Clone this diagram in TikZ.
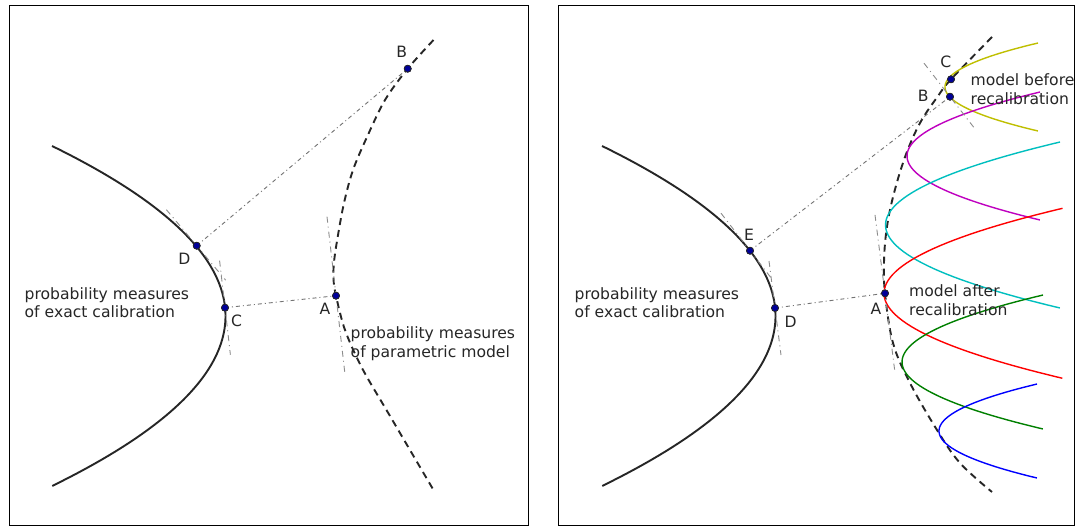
\documentclass[tikz,border=0pt]{standalone}
\usepackage{fontspec}
\setmainfont{DejaVu Sans}
\usetikzlibrary{calc}
\definecolor{myy}{rgb}{0.75,0.75,0}
\definecolor{mym}{rgb}{0.75,0,0.75}
\definecolor{myc}{rgb}{0,0.75,0.75}
\definecolor{myr}{rgb}{1,0,0}
\definecolor{myg}{rgb}{0,0.5,0}
\definecolor{myb}{rgb}{0,0,1}
\definecolor{dotfill}{rgb}{0,0,0.6}
\definecolor{txt}{rgb}{0.15,0.15,0.15}
\tikzset{
  frame/.style={draw=black, line width=1pt},
  solidcurve/.style={draw=black!85, line width=1.9pt},
  dashcurve/.style={draw=black!85, line width=1.9pt, dash pattern=on 7pt off 5pt},
  conn/.style={draw=black!55, line width=0.9pt, dash pattern=on 4pt off 3pt on 1pt off 3pt},
  tang/.style={draw=black!45, line width=0.9pt, dash pattern=on 6pt off 4pt on 1pt off 4pt},
  param/.style={line width=1.4pt},
  dot/.style={circle, fill=dotfill, draw=black!85, line width=0.7pt, minimum size=7pt, inner sep=0pt},
  lbl/.style={inner sep=0pt, text=txt, font=\fontsize{15.6}{18.6}\selectfont},
  txtbox/.style={inner sep=0pt, text=txt, align=left, anchor=west, font=\fontsize{15.6}{18.6}\selectfont}
}
\begin{document}
\begin{tikzpicture}[x=1pt,y=-1pt]
\useasboundingbox (0,0) rectangle (1075,528);
\fill[white] (0,0) rectangle (1075,528);
% frames
\draw[frame] (9.5,5.5) rectangle (528.5,525.5);
\draw[frame] (558.5,5.5) rectangle (1074.5,525.5);

% ---------------- left panel ----------------
\draw[solidcurve] plot[domain=-1.7:1.7, samples=80] ({225.5-60*\x*\x},{316+100*\x});
\draw[dashcurve] plot[smooth, tension=0.55] coordinates {(433.5,40) (407.7,68.7) (385,100) (367,137) (353,170) (344,203) (337.5,238) (334,262) (333.5,279) (336,295.7) (345,330) (362,368) (390,416) (433.5,490)};

\node[dot] (lB) at (407.7,68.7) {};
\node[dot] (lD) at (196.7,245.7) {};
\node[dot] (lC) at (225,307.7) {};
\node[dot] (lA) at (336,295.7) {};

\draw[tang] ($(lD)+(-30.3,-36)$) -- ($(lD)+(29,34.5)$);
\draw[tang] ($(lC)+(-5.4,-47)$) -- ($(lC)+(5.4,47)$);
\draw[tang] ($(lA)+(-9,-79)$) -- ($(lA)+(8.8,77)$);

\draw[conn] (lD.center) -- (lB.center);
\draw[conn] (lC.center) -- (lA.center);

\node[dot] at (lB) {};
\node[dot] at (lD) {};
\node[dot] at (lC) {};
\node[dot] at (lA) {};

\node[lbl] (tlB) at (401.7,52.3) {B};
\node[lbl] (tlD) at (184.3,259) {D};
\node[lbl] (tlC) at (236.5,321) {C};
\node[lbl] (tlA) at (325,309) {A};
\node[txtbox] (tlexact) at (24.5,302.5) {probability measures\\of exact calibration};
\node[txtbox] (tlparam) at (350.5,343.5) {probability measures\\of parametric model};

% ---------------- right panel ----------------
\draw[solidcurve] plot[domain=-1.7:1.7, samples=80] ({775.5-60*\x*\x},{316+100*\x});
\draw[dashcurve] plot[smooth, tension=0.6] coordinates {(992,37) (951,79.3) (938,96) (920,123) (905,157) (893,197) (886.5,230) (884,262) (885,293.3) (893,343) (910,383) (937,430) (960,463) (992,492)};

% parametric model curves
\draw[param, myy] plot[domain=-1:1, samples=60] ({945+93*\x*\x},{87+44*\x});
\draw[param, mym] plot[domain=-1:1, samples=60] ({907+133*\x*\x},{156+64*\x});
\draw[param, myc] plot[domain=-1:1, samples=60] ({885.5+174.5*\x*\x},{225+83*\x});
\draw[param, myr] plot[domain=-1:1, samples=60] ({884+178.5*\x*\x},{293.3+85*\x});
\draw[param, myg] plot[domain=-1:1, samples=60] ({902+141*\x*\x},{362+67*\x});
\draw[param, myb] plot[domain=-1:1, samples=60] ({939+98*\x*\x},{431+47*\x});

\node[dot] (rC) at (951,79.3) {};
\node[dot] (rB) at (950,96.7) {};
\node[dot] (rE) at (750,250.7) {};
\node[dot] (rD) at (775,308) {};
\node[dot] (rA) at (885,293.3) {};

\draw[tang] ($(rE)+(-29,-37.5)$) -- ($(rE)+(22.5,29)$);
\draw[tang] ($(rD)+(-6,-47)$) -- ($(rD)+(6,47)$);
\draw[tang] ($(rA)+(-10,-78.5)$) -- ($(rA)+(9.8,78)$);
\draw[tang] ($(rB)+(-26,-33.5)$) -- ($(rB)+(26,33.5)$);

\draw[conn] (rE.center) -- (rB.center);
\draw[conn] (rD.center) -- (rA.center);

\node[dot] at (rC) {};
\node[dot] at (rB) {};
\node[dot] at (rE) {};
\node[dot] at (rD) {};
\node[dot] at (rA) {};

\node[lbl] (trC) at (945.7,61.5) {C};
\node[lbl] (trB) at (923.3,96) {B};
\node[lbl] (trE) at (749,234.5) {E};
\node[lbl] (trD) at (790.7,321.7) {D};
\node[lbl] (trA) at (876,309.3) {A};
\node[txtbox] (trexact) at (574.5,302.5) {probability measures\\of exact calibration};
\node[txtbox] (trafter) at (909,300) {model after\\recalibration};
\node[txtbox] (trbefore) at (970.5,89) {model before\\recalibration};
\end{tikzpicture}
\end{document}
